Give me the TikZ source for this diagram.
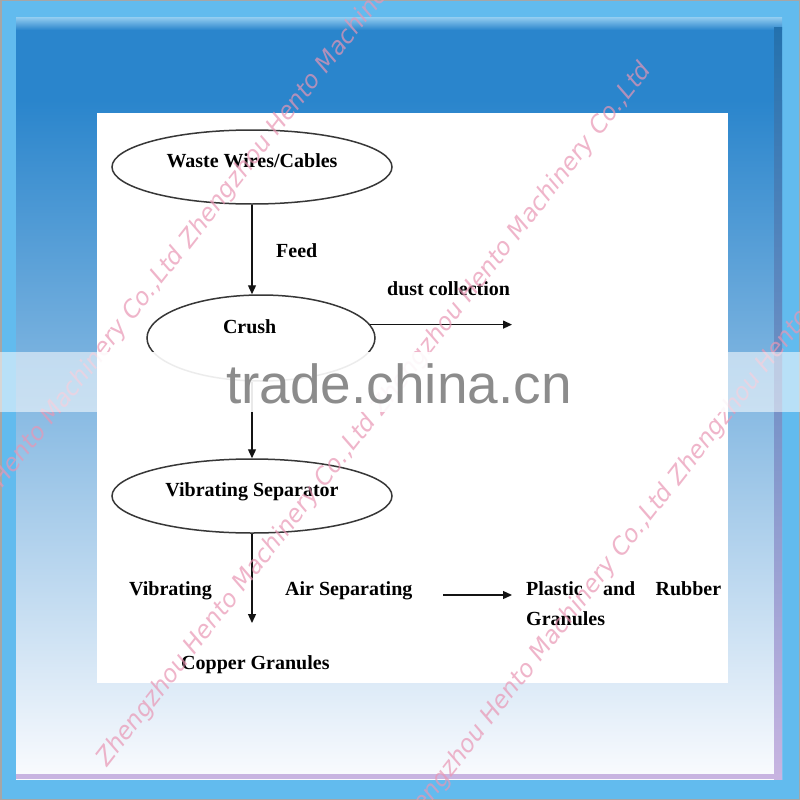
\documentclass[tikz,border=0pt]{standalone}
\usepackage{fontspec}
\setmainfont{Liberation Serif}
\newfontfamily\wmfont{DejaVu Sans}
\newfontfamily\trfont{Liberation Sans}
\usetikzlibrary{shapes.geometric,arrows.meta}
\definecolor{frameblue}{RGB}{98,187,238}
\definecolor{deepblue}{RGB}{42,133,204}
\definecolor{midblue}{RGB}{128,184,228}
\definecolor{paleblue}{RGB}{250,251,254}
\definecolor{bevel}{RGB}{140,200,238}
\definecolor{lavender}{RGB}{200,180,225}
\definecolor{wmpink}{RGB}{233,150,180}
\definecolor{trgrey}{RGB}{140,140,140}
\definecolor{ink}{RGB}{20,20,20}
\begin{document}
\begin{tikzpicture}[x=1pt,y=-1pt,
  proc/.style={ellipse, draw=ink!85, line width=1.5pt, inner sep=0pt,
    font=\bfseries\fontsize{20}{24}\selectfont, text height=13pt, text depth=13pt},
  lab/.style={font=\bfseries\fontsize{20}{24}\selectfont, inner sep=0pt, anchor=base west},
  arr/.style={draw=ink, line width=1.3pt, -{Triangle[length=9pt,width=8pt]}},
  wm/.style={font=\wmfont\itshape\fontsize{24}{28}\selectfont, text=wmpink, text opacity=0.7,
    rotate=52, anchor=base west, inner sep=0pt}
]
\useasboundingbox (0,0) rectangle (800,800);
\clip (0,0) rectangle (800,800);
% frame
\fill[frameblue] (0,0) rectangle (800,800);
\draw[gray!70, line width=3pt] (0,0) rectangle (800,800);
\fill[deepblue] (16,20) rectangle (782,100);
\shade[top color=deepblue, middle color=midblue, bottom color=paleblue] (16,100) rectangle (782,779);
\shade[top color=bevel, bottom color=deepblue] (16,18) rectangle (782,30);
\shade[top color=deepblue!85!black, bottom color=lavender] (774,28) rectangle (782,779);
\fill[lavender] (16,774) rectangle (782,779);
% white panel
\fill[white] (97,113) rectangle (728,683);
% diagram
\node[proc, minimum width=280pt, minimum height=74pt] (waste) at (252,167) {Waste Wires/Cables};
\node[proc, minimum width=228pt, minimum height=86pt, text height=8pt, text depth=18pt] (crush) at (261,338) {\makebox[76pt][l]{Crush}};
\node[proc, minimum width=280pt, minimum height=74pt] (vib) at (252,496) {Vibrating Separator};
\coordinate (dustend) at (512,325);
\coordinate (cuend) at (252,623);
\coordinate (psstart) at (443,595);
\coordinate (psend) at (512,595);
\draw[arr] (waste.south) -- (waste.south |- crush.north);
\draw[arr] (crush.south -| vib.north) -- (vib.north);
\draw[arr] (crush.7) -- (crush.7 -| dustend);
\draw[arr] (vib.south) -- (cuend);
\draw[arr] (psstart) -- (psend);
\node[lab] (feed) at (276,257) {Feed};
\node[lab] (dust) at (387,295) {dust collection};
\node[lab] (vibr) at (129,595) {Vibrating};
\node[lab] (airsep) at (285,595) {Air Separating};
\node[lab] (plastic) at (526,595) {\makebox[195pt][s]{Plastic and Rubber}};
\node[lab] (granules) at (526,625) {Granules};
\node[lab] (copper) at (181,669) {Copper Granules};
% watermarks
\node[wm] (wmA) at (-85,601) {Zhengzhou Hento Machinery Co.,Ltd Zhengzhou Hento Machinery Co.,Ltd};
\node[wm] (wmB) at (107,768) {Zhengzhou Hento Machinery Co.,Ltd Zhengzhou Hento Machinery Co.,Ltd};
\node[wm] (wmC) at (404,838) {Zhengzhou Hento Machinery Co.,Ltd Zhengzhou Hento Machinery Co.,Ltd};
% band
\fill[white, opacity=0.55] (0,352) rectangle (800,412);
\fill[white, opacity=0.8] (97,352) rectangle (728,412);
\node[font=\trfont\fontsize{55}{60}\selectfont, text=trgrey, anchor=base west, inner sep=0pt] (trade) at (226,403) {trade.china.cn};
\end{tikzpicture}
\end{document}
